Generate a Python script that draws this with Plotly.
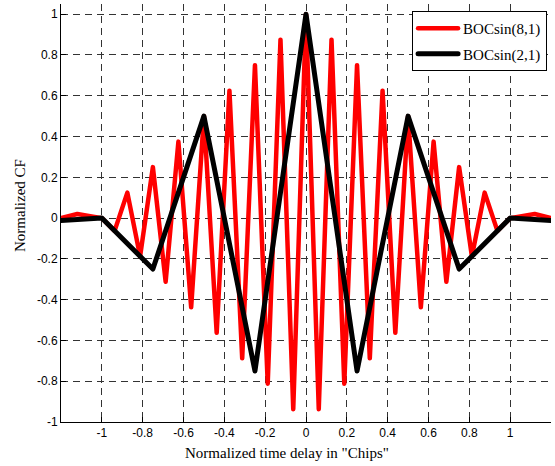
import plotly.graph_objects as go

# BOCsin(8,1) normalized correlation function
x_boc81 = [-1.2, -1.12, -1.0, -0.9375, -0.875, -0.8125, -0.75, -0.6875, -0.625, -0.5625,
           -0.5, -0.4375, -0.375, -0.3125, -0.25, -0.1875, -0.125, -0.0625, 0.0,
           0.0625, 0.125, 0.1875, 0.25, 0.3125, 0.375, 0.4375, 0.5, 0.5625, 0.625,
           0.6875, 0.75, 0.8125, 0.875, 0.9375, 1.0, 1.12, 1.2]
y_boc81 = [0.0, 0.02, 0.0, -0.0625, 0.125, -0.1875, 0.25, -0.3125, 0.375, -0.4375,
           0.5, -0.5625, 0.625, -0.6875, 0.75, -0.8125, 0.875, -0.9375, 1.0,
           -0.9375, 0.875, -0.8125, 0.75, -0.6875, 0.625, -0.5625, 0.5, -0.4375, 0.375,
           -0.3125, 0.25, -0.1875, 0.125, -0.0625, 0.0, 0.02, 0.0]

# BOCsin(2,1) normalized correlation function
x_boc21 = [-1.2, -1.0, -0.75, -0.5, -0.25, 0.0, 0.25, 0.5, 0.75, 1.0, 1.2]
y_boc21 = [-0.012, 0.0, -0.25, 0.5, -0.75, 1.0, -0.75, 0.5, -0.25, 0.0, -0.012]

x_tickvals = [-1, -0.8, -0.6, -0.4, -0.2, 0, 0.2, 0.4, 0.6, 0.8, 1]
x_ticktext = ["-1", "-0.8", "-0.6", "-0.4", "-0.2", "0", "0.2", "0.4", "0.6", "0.8", "1"]
y_tickvals = [-1, -0.8, -0.6, -0.4, -0.2, 0, 0.2, 0.4, 0.6, 0.8, 1]
y_ticktext = ["-1", "-0.8", "-0.6", "-0.4", "-0.2", "0", "0.2", "0.4", "0.6", "0.8", "1"]

fig = go.Figure()
fig.add_trace(go.Scatter(x=x_boc81, y=y_boc81, mode="lines", name="BOCsin(8,1)",
                         legendgroup="a",
                         line=dict(color="#ff0000", width=4.5)))
fig.add_trace(go.Scatter(x=x_boc21, y=y_boc21, mode="lines", name="BOCsin(2,1)",
                         legendgroup="b",
                         line=dict(color="#000000", width=5)))

axis_common = dict(
    showline=True, linecolor="black", linewidth=1, mirror=False,
    ticks="inside", ticklen=5, tickcolor="black", tickwidth=1,
    showgrid=True, gridcolor="#333333", gridwidth=1, griddash="7px,5px",
    zeroline=False,
    tickfont=dict(family="Liberation Sans, Arial", size=12, color="black"),
)

fig.update_xaxes(range=[-1.2, 1.2], tickvals=x_tickvals, ticktext=x_ticktext, **axis_common)
fig.update_yaxes(range=[-1.0, 1.05], tickvals=y_tickvals, ticktext=y_ticktext, **axis_common)

serif = dict(family="Liberation Serif, Times New Roman", size=15, color="black")

pl, pr, pt, pb = 61, 4, 4, 44
pw, ph = 555 - pl - pr, 466 - pt - pb

def px_to_paper(xp, yp):
    return (xp - pl) / pw, (466 - pb - yp) / ph

xt, yt = px_to_paper(287, 453)
xy, yy = px_to_paper(20, 206)

fig.update_layout(
    width=555, height=466,
    margin=dict(l=pl, r=pr, t=pt, b=pb),
    plot_bgcolor="white", paper_bgcolor="white",
    showlegend=True,
    legend=dict(
        x=0.992, y=0.983, xanchor="right", yanchor="top",
        bgcolor="white", bordercolor="black", borderwidth=1,
        font=serif, tracegroupgap=3, itemwidth=40,
    ),
    annotations=[
        dict(text='Normalized time delay in "Chips"', x=xt, y=yt, xref="paper", yref="paper",
             xanchor="center", yanchor="middle", showarrow=False, font=serif),
        dict(text="Normalized CF", x=xy, y=yy, xref="paper", yref="paper", textangle=-90,
             xanchor="center", yanchor="middle", showarrow=False, font=serif),
    ],
)

post = ("var s=document.createElement('style');"
        "s.innerHTML='.js-line{stroke-linejoin:round;stroke-linecap:round;}';"
        "document.head.appendChild(s);")

fig.write_html("out.html", post_script=post)
